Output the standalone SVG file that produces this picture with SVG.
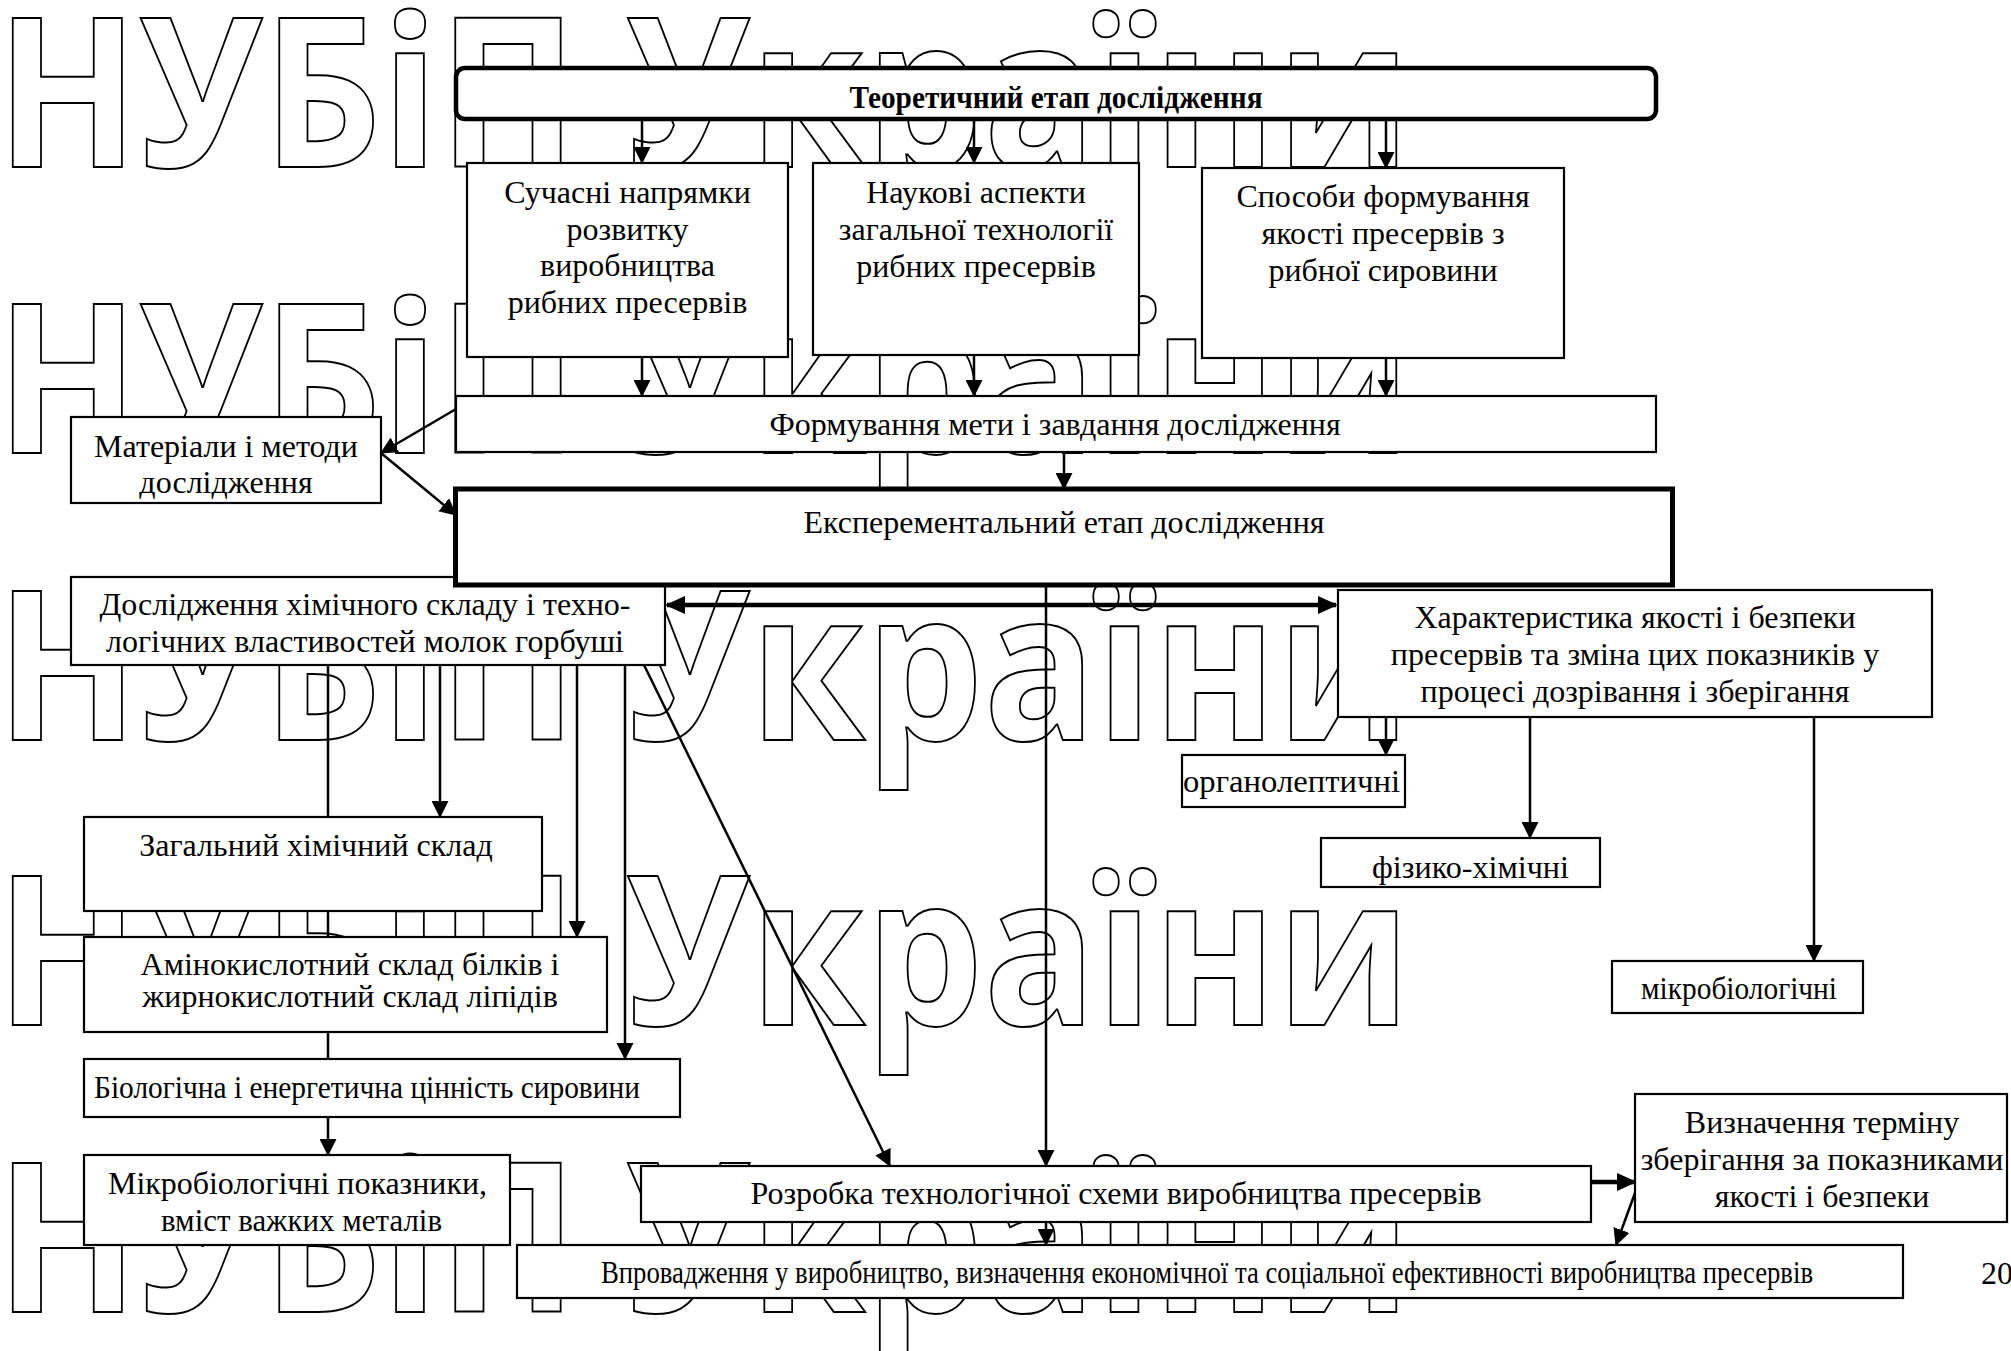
<svg xmlns="http://www.w3.org/2000/svg" width="2011" height="1351" viewBox="0 0 2011 1351">
<style>
.bg{fill:#fff}
.wm{font-family:"Open Sans","DejaVu Sans",sans-serif;font-weight:700;font-size:209px;fill:none;stroke:#000;stroke-width:2}
.box{fill:#fff;stroke:#000;stroke-width:2.2}
.t{font-family:"Liberation Serif","Times New Roman",serif;font-size:32px;fill:#000;text-anchor:middle}
.tl{text-anchor:start}
.c{stroke:#000;stroke-width:2.5;fill:none}
.ck{stroke:#000;stroke-width:4.5;fill:none}
</style>
<defs>
<marker id="a" markerUnits="userSpaceOnUse" markerWidth="17" markerHeight="17" viewBox="0 0 17 17" refX="16" refY="8.5" orient="auto"><path d="M0,0 L17,8.5 L0,17 z" fill="#000"/></marker>
<marker id="ab" markerUnits="userSpaceOnUse" markerWidth="20" markerHeight="20" viewBox="0 0 20 20" refX="18" refY="10" orient="auto-start-reverse"><path d="M0,1 L20,10 L0,19 z" fill="#000"/></marker>
</defs>
<rect class="bg" x="0" y="0" width="2011" height="1351"/>
<g id="watermark">
<text class="wm" x="-4" y="167" textLength="1415" lengthAdjust="spacingAndGlyphs">НУБіП України</text>
<text class="wm" x="-4" y="453" textLength="1415" lengthAdjust="spacingAndGlyphs">НУБіП України</text>
<text class="wm" x="-4" y="740" textLength="1415" lengthAdjust="spacingAndGlyphs">НУБіП України</text>
<text class="wm" x="-4" y="1025" textLength="1415" lengthAdjust="spacingAndGlyphs">НУБіП України</text>
<text class="wm" x="-4" y="1312" textLength="1415" lengthAdjust="spacingAndGlyphs">НУБіП України</text>
</g>
<g id="connectors">
<line class="c" x1="642" y1="121" x2="642" y2="163" marker-end="url(#a)"/>
<line class="c" x1="974" y1="121" x2="974" y2="163" marker-end="url(#a)"/>
<line class="c" x1="1386" y1="121" x2="1386" y2="168" marker-end="url(#a)"/>
<line class="c" x1="642" y1="357" x2="642" y2="396" marker-end="url(#a)"/>
<line class="c" x1="974" y1="355" x2="974" y2="396" marker-end="url(#a)"/>
<line class="c" x1="1386" y1="358" x2="1386" y2="396" marker-end="url(#a)"/>
<line class="c" x1="1064" y1="452" x2="1064" y2="489" marker-end="url(#a)"/>
<line class="c" x1="456" y1="409" x2="381" y2="453" stroke-width="3" marker-end="url(#a)"/>
<line class="c" x1="381" y1="453" x2="456" y2="515" stroke-width="3" marker-end="url(#a)"/>
<line class="ck" x1="667" y1="605" x2="1336" y2="605" marker-start="url(#ab)" marker-end="url(#ab)"/>
<line class="c" x1="1386" y1="717" x2="1386" y2="755" marker-end="url(#a)"/>
<line class="c" x1="1530" y1="717" x2="1530" y2="838" marker-end="url(#a)"/>
<line class="c" x1="1814" y1="717" x2="1814" y2="961" marker-end="url(#a)"/>
<line class="c" x1="1046" y1="585" x2="1046" y2="1166" marker-end="url(#a)"/>
<line class="c" x1="1046" y1="1222" x2="1046" y2="1245" marker-end="url(#a)"/>
<line class="c" x1="328" y1="665" x2="328" y2="1155" marker-end="url(#a)"/>
<line class="c" x1="440" y1="665" x2="440" y2="817" marker-end="url(#a)"/>
<line class="c" x1="577" y1="665" x2="577" y2="937" marker-end="url(#a)"/>
<line class="c" x1="625" y1="665" x2="625" y2="1059" marker-end="url(#a)"/>
<line class="c" x1="644" y1="665" x2="890" y2="1166" stroke-width="3" marker-end="url(#a)"/>
<line class="ck" x1="1591" y1="1182" x2="1635" y2="1182" marker-end="url(#ab)"/>
<line class="c" x1="1635" y1="1193" x2="1616" y2="1245" stroke-width="3" marker-end="url(#a)"/>
</g>
<g id="n-theory">
<rect x="456" y="68" width="1200" height="51" rx="9" fill="#fff" stroke="#000" stroke-width="4.5"/>
<text class="t" x="1056" y="108" font-weight="700" font-size="30" textLength="413" lengthAdjust="spacingAndGlyphs">Теоретичний етап дослідження</text>
</g>
<g id="n-suchasni">
<rect class="box" x="467" y="163" width="321" height="194"/>
<text class="t" x="627.5" y="203">Сучасні напрямки</text>
<text class="t" x="627.5" y="239.5">розвитку</text>
<text class="t" x="627.5" y="276">виробництва</text>
<text class="t" x="627.5" y="312.5">рибних пресервів</text>
</g>
<g id="n-naukovi">
<rect class="box" x="813" y="163" width="326" height="192"/>
<text class="t" x="976" y="203">Наукові аспекти</text>
<text class="t" x="976" y="240">загальної технології</text>
<text class="t" x="976" y="277">рибних пресервів</text>
</g>
<g id="n-sposoby">
<rect class="box" x="1202" y="168" width="362" height="190"/>
<text class="t" x="1383" y="207">Способи формування</text>
<text class="t" x="1383" y="244">якості пресервів з</text>
<text class="t" x="1383" y="281">рибної сировини</text>
</g>
<g id="n-meta">
<rect class="box" x="456" y="396" width="1200" height="56"/>
<text class="t" x="1055" y="435">Формування мети і завдання дослідження</text>
</g>
<g id="n-materialy">
<rect class="box" x="71" y="417" width="310" height="86"/>
<text class="t" x="226" y="457">Матеріали і методи</text>
<text class="t" x="226" y="493">дослідження</text>
</g>
<g id="n-doslidzhennia">
<rect class="box" x="71" y="577" width="594" height="88"/>
<text class="t" x="365" y="615">Дослідження хімічного складу і техно-</text>
<text class="t" x="365" y="652">логічних властивостей молок горбуші</text>
</g>
<g id="n-eksper">
<rect x="455.5" y="489" width="1217" height="96" fill="#fff" stroke="#000" stroke-width="5"/>
<text class="t" x="1064" y="533">Експерементальний етап дослідження</text>
</g>
<g id="n-kharakter">
<rect class="box" x="1338" y="590" width="594" height="127"/>
<text class="t" x="1635" y="628">Характеристика якості і безпеки</text>
<text class="t" x="1635" y="665">пресервів та зміна цих показників у</text>
<text class="t" x="1635" y="702">процесі дозрівання і зберігання</text>
</g>
<g id="n-organo">
<rect class="box" x="1182" y="755" width="223" height="52"/>
<text class="t tl" x="1183" y="792" font-size="42" textLength="217" lengthAdjust="spacingAndGlyphs">органолептичні</text>
</g>
<g id="n-fizyko">
<rect class="box" x="1321" y="838" width="279" height="49"/>
<text class="t tl" x="1372" y="878" font-size="42" textLength="197" lengthAdjust="spacingAndGlyphs">фізико-хімічні</text>
</g>
<g id="n-mikrobio">
<rect class="box" x="1612" y="961" width="251" height="52"/>
<text class="t tl" x="1641" y="999" font-size="42" textLength="196" lengthAdjust="spacingAndGlyphs">мікробіологічні</text>
</g>
<g id="n-zagalnyi">
<rect class="box" x="84" y="817" width="458" height="94"/>
<text class="t" x="316" y="856" font-size="30">Загальний хімічний склад</text>
</g>
<g id="n-amino">
<rect class="box" x="84" y="937" width="523" height="95"/>
<text class="t" x="350" y="975" font-size="28">Амінокислотний склад білків і</text>
<text class="t" x="350" y="1007" font-size="28">жирнокислотний склад ліпідів</text>
</g>
<g id="n-biolog">
<rect class="box" x="84" y="1059" width="596" height="58"/>
<text class="t tl" x="94" y="1098" font-size="38" textLength="546" lengthAdjust="spacingAndGlyphs">Біологічна і енергетична цінність сировини</text>
</g>
<g id="n-mikro-pokaz">
<rect class="box" x="84" y="1155" width="426" height="90"/>
<text class="t tl" x="108" y="1194" font-size="34" textLength="379" lengthAdjust="spacingAndGlyphs">Мікробіологічні показники,</text>
<text class="t tl" x="161" y="1231" font-size="34" textLength="281" lengthAdjust="spacingAndGlyphs">вміст важких металів</text>
</g>
<g id="n-rozrobka">
<rect class="box" x="641" y="1166" width="950" height="56"/>
<text class="t" x="1116" y="1204">Розробка технологічної схеми виробництва пресервів</text>
</g>
<g id="n-vyznach">
<rect class="box" x="1635" y="1094" width="372" height="128"/>
<text class="t" x="1822" y="1133">Визначення терміну</text>
<text class="t" x="1822" y="1170">зберігання за показниками</text>
<text class="t" x="1822" y="1207">якості і безпеки</text>
</g>
<g id="n-vprovad">
<rect class="box" x="517" y="1245" width="1386" height="53"/>
<text class="t tl" x="601" y="1283" font-size="27" textLength="1212" lengthAdjust="spacingAndGlyphs">Впровадження у виробництво, визначення економічної та соціальної ефективності виробництва пресервів</text>
</g>
<text class="t tl" x="1981" y="1284">20</text>
</svg>
